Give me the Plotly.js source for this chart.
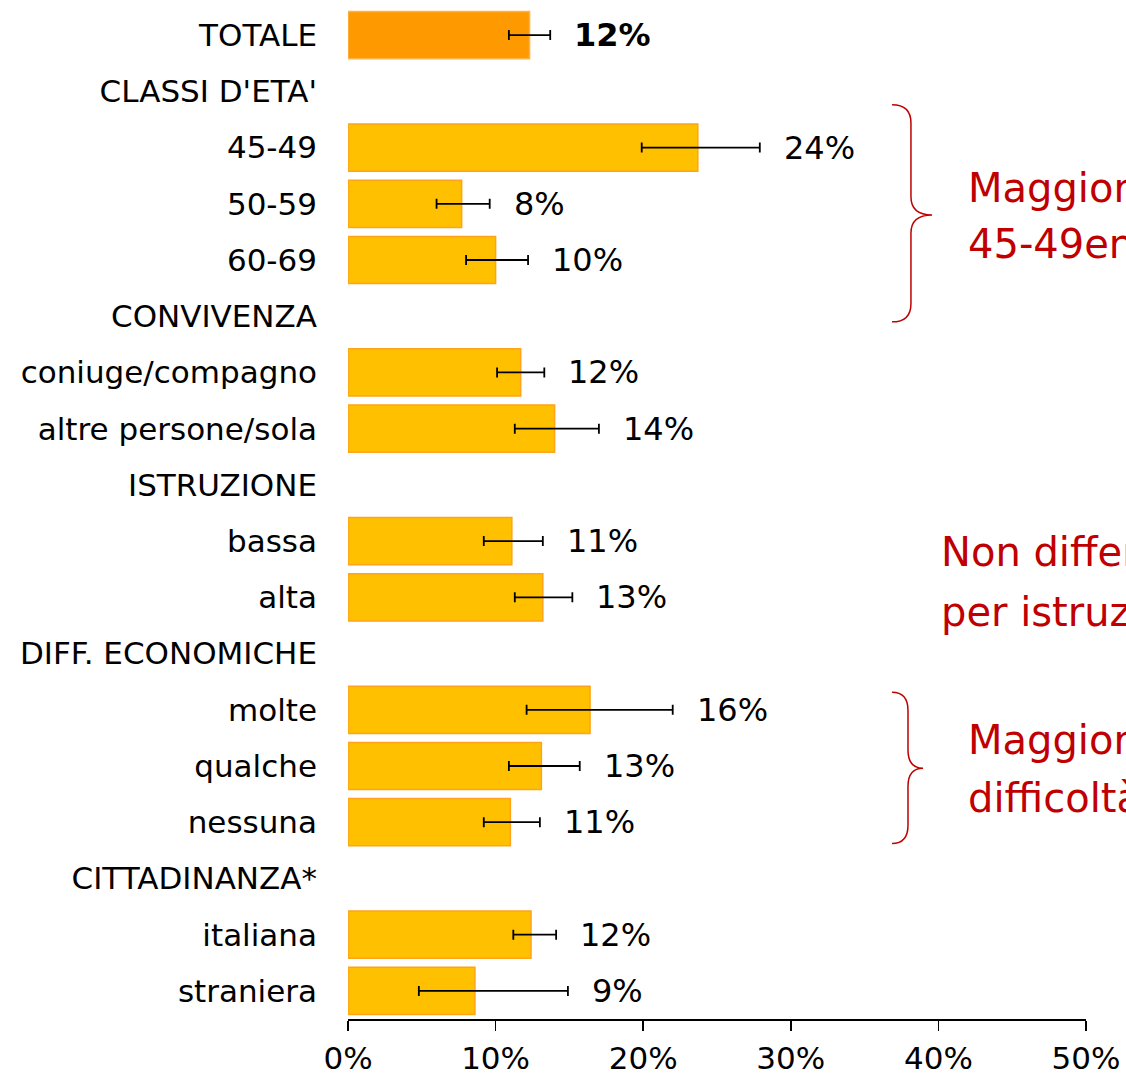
<!DOCTYPE html>
<html><head><meta charset="utf-8">
<script src="https://cdn.plot.ly/plotly-3.0.1.min.js"></script>
<style>body{margin:0;background:#fff;} #chart{width:1126px;height:1077px;}</style>
</head><body><div id="chart"></div>
<script>
// ---- data ----
const categories = ["TOTALE","CLASSI D'ETA'","45-49","50-59","60-69","CONVIVENZA","coniuge/compagno","altre persone/sola","ISTRUZIONE","bassa","alta","DIFF. ECONOMICHE","molte","qualche","nessuna","CITTADINANZA*","italiana","straniera"];
const values  = [0.123, null, 0.237, 0.077, 0.100, null, 0.117, 0.140, null, 0.111, 0.132, null, 0.164, 0.131, 0.110, null, 0.124, 0.086];
const ciLow   = [0.109, null, 0.199, 0.060, 0.080, null, 0.101, 0.113, null, 0.092, 0.113, null, 0.121, 0.109, 0.092, null, 0.112, 0.048];
const ciHigh  = [0.137, null, 0.279, 0.096, 0.122, null, 0.133, 0.170, null, 0.132, 0.152, null, 0.220, 0.157, 0.130, null, 0.141, 0.149];
const valueLabels = ["12%","","24%","8%","10%","","12%","14%","","11%","13%","","16%","13%","11%","","12%","9%"];
const xTicks = [0, 0.1, 0.2, 0.3, 0.4, 0.5];
const noteA = ["Maggiore prevalenza tra le", "45-49enni"];
const noteB = ["Non differenze significative", "per istruzione"];
const noteC = ["Maggiore prevalenza in chi ha", "difficoltà economiche"];

// ---- styling ----
const FONT = "DejaVu Sans";
const RED = "#C00000";
const isTotal = categories.map((c, i) => i === 0);
const fillColors = isTotal.map(t => t ? "#FF9900" : "#FFC000");
const lineColors = isTotal.map(t => t ? "#FFB347" : "#FFA31A");

const errPlus  = values.map((v, i) => v == null ? null : ciHigh[i] - v);
const errMinus = values.map((v, i) => v == null ? null : v - ciLow[i]);

const trace = {
  type: "bar", orientation: "h",
  y: categories, x: values,
  marker: { color: fillColors, line: { color: lineColors, width: 1.5 } },
  error_x: { type: "data", symmetric: false, array: errPlus, arrayminus: errMinus,
             color: "#000", thickness: 1.8, width: 5 },
  hoverinfo: "skip", showlegend: false
};

const annotations = [];
values.forEach((v, i) => {
  if (v == null) return;
  annotations.push({
    x: ciHigh[i], y: categories[i], xref: "x", yref: "y",
    text: isTotal[i] ? "<b>" + valueLabels[i] + "</b>" : valueLabels[i],
    showarrow: false, xanchor: "left", yanchor: "middle", xshift: 22,
    font: { family: FONT, size: 32, color: "#000" }
  });
});

// rows -> paper coordinate
const N = categories.length;
const rowToPaper = r => 1 - (r + 0.5) / N;

function addNote(lines, x, rowCenter, gapRows) {
  lines.forEach((t, k) => {
    const r = rowCenter + (k - (lines.length - 1) / 2) * gapRows;
    annotations.push({ x: x, y: rowToPaper(r), xref: "paper", yref: "paper",
      text: t, showarrow: false, xanchor: "left", yanchor: "middle",
      font: { family: FONT, size: 40, color: RED } });
  });
}
addNote(noteA, 0.838, 3.22, 1.0);
addNote(noteB, 0.801, 9.73, 1.07);
addNote(noteC, 0.838, 13.06, 1.03);

function brace(x0, xm, xt, rTop, rBot, rTip) {
  const yT = rowToPaper(rTop), yB = rowToPaper(rBot), yM = rowToPaper(rTip);
  const d = 0.018;
  return { type: "path", xref: "x", yref: "paper",
    path: `M ${x0},${yT} Q ${xm},${yT} ${xm},${yT - d} L ${xm},${yM + d} Q ${xm},${yM} ${xt},${yM} ` +
          `Q ${xm},${yM} ${xm},${yM - d} L ${xm},${yB + d} Q ${xm},${yB} ${x0},${yB}`,
    line: { color: RED, width: 1.5 } };
}
const shapes = [
  brace(0.3686, 0.3814, 0.3957, 1.24, 5.10, 3.20),
  brace(0.3686, 0.3794, 0.3896, 11.69, 14.38, 13.04)
];

const layout = {
  width: 1126, height: 1077,
  margin: { l: 348, r: 40, t: 7, b: 58 },
  paper_bgcolor: "#fff", plot_bgcolor: "#fff",
  font: { family: FONT, size: 30, color: "#000" },
  bargap: 0.16,
  xaxis: { range: [0, 0.5], tickvals: xTicks, tickformat: ".0%",
           ticks: "outside", ticklen: 10, tickwidth: 1.5, tickcolor: "#000",
           showline: true, linecolor: "#000", linewidth: 1.5,
           showgrid: false, zeroline: false, fixedrange: true, ticklabelstandoff: 1,
           tickfont: { family: FONT, size: 31, color: "#000" } },
  yaxis: { type: "category", categoryorder: "array", categoryarray: categories,
           autorange: "reversed", ticks: "", showline: false, showgrid: false,
           zeroline: false, ticklabelstandoff: 30,
           tickfont: { family: FONT, size: 31, color: "#000" } },
  annotations: annotations,
  shapes: shapes
};

Plotly.newPlot("chart", [trace], layout, { displayModeBar: false, staticPlot: true });
</script>
</body></html>
